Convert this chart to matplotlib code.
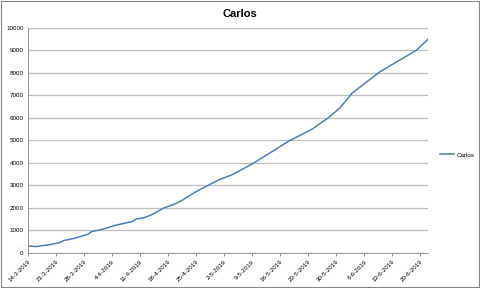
import matplotlib
matplotlib.use("Agg")
import matplotlib.pyplot as plt
import matplotlib.dates as mdates
import pandas as pd

# days after 14-3-2019 and running total
days = [0, 2, 4, 6, 8, 9, 11, 13, 15, 16, 18, 20, 22, 25, 26, 27, 29, 31, 34, 36,
        38, 42, 45, 48, 51, 55, 57, 61, 65, 71, 75, 78, 81, 88, 93, 97, 100]
values = [310, 280, 330, 380, 460, 550, 620, 720, 830, 950, 1020, 1120, 1230, 1350,
          1380, 1500, 1560, 1700, 2000, 2120, 2280, 2720, 3000, 3270, 3470, 3850,
          4060, 4500, 4950, 5500, 6000, 6450, 7100, 8060, 8580, 9000, 9500]
start = pd.Timestamp("2019-03-14")
dates = [start + pd.Timedelta(days=d) for d in days]
tick_dates = [start + pd.Timedelta(days=7 * i) for i in range(15)]
yticks = list(range(0, 10001, 1000))

plt.rcParams['font.family'] = ['Liberation Sans', 'DejaVu Sans']

fig = plt.figure(figsize=(4.8, 2.88), dpi=100)
ax = fig.add_axes([0.058, 0.122, 0.834, 0.781])

line, = ax.plot(dates, values, color='#4A7EBB', lw=1.1, label='Carlos')

ax.set_xlim(start, start + pd.Timedelta(days=100))
ax.set_ylim(0, 10000)
ax.set_yticks(yticks)
ax.set_xticks(tick_dates)
ax.set_xticklabels([f"{d.day}-{d.month}-{d.year}" for d in tick_dates],
                   rotation=45, ha='right', rotation_mode='anchor', fontsize=4.5)
ax.tick_params(axis='y', labelsize=4.5, length=0, pad=3)
ax.tick_params(axis='x', length=2.5, width=0.6, color='#868686', pad=2)
ax.grid(axis='y', color='#BFBFBF', lw=0.9)
ax.set_axisbelow(True)
for s in ['top', 'right']:
    ax.spines[s].set_visible(False)
ax.spines['left'].set_color('#868686')
ax.spines['bottom'].set_color('#868686')
ax.spines['left'].set_linewidth(0.6)
ax.spines['bottom'].set_linewidth(0.6)

fig.text(0.5, 0.95, 'Carlos', ha='center', va='center', fontsize=8, fontweight='bold')
fig.legend(handles=[line], loc='center left', bbox_to_anchor=(0.905, 0.462),
           frameon=False, fontsize=4.5, handlelength=2.2, handletextpad=0.4)

fig.patches.append(plt.Rectangle((0.002, 0.003), 0.995, 0.994, transform=fig.transFigure,
                                 fill=False, edgecolor='#868686', lw=0.8))

fig.savefig("out.png", dpi=100)
